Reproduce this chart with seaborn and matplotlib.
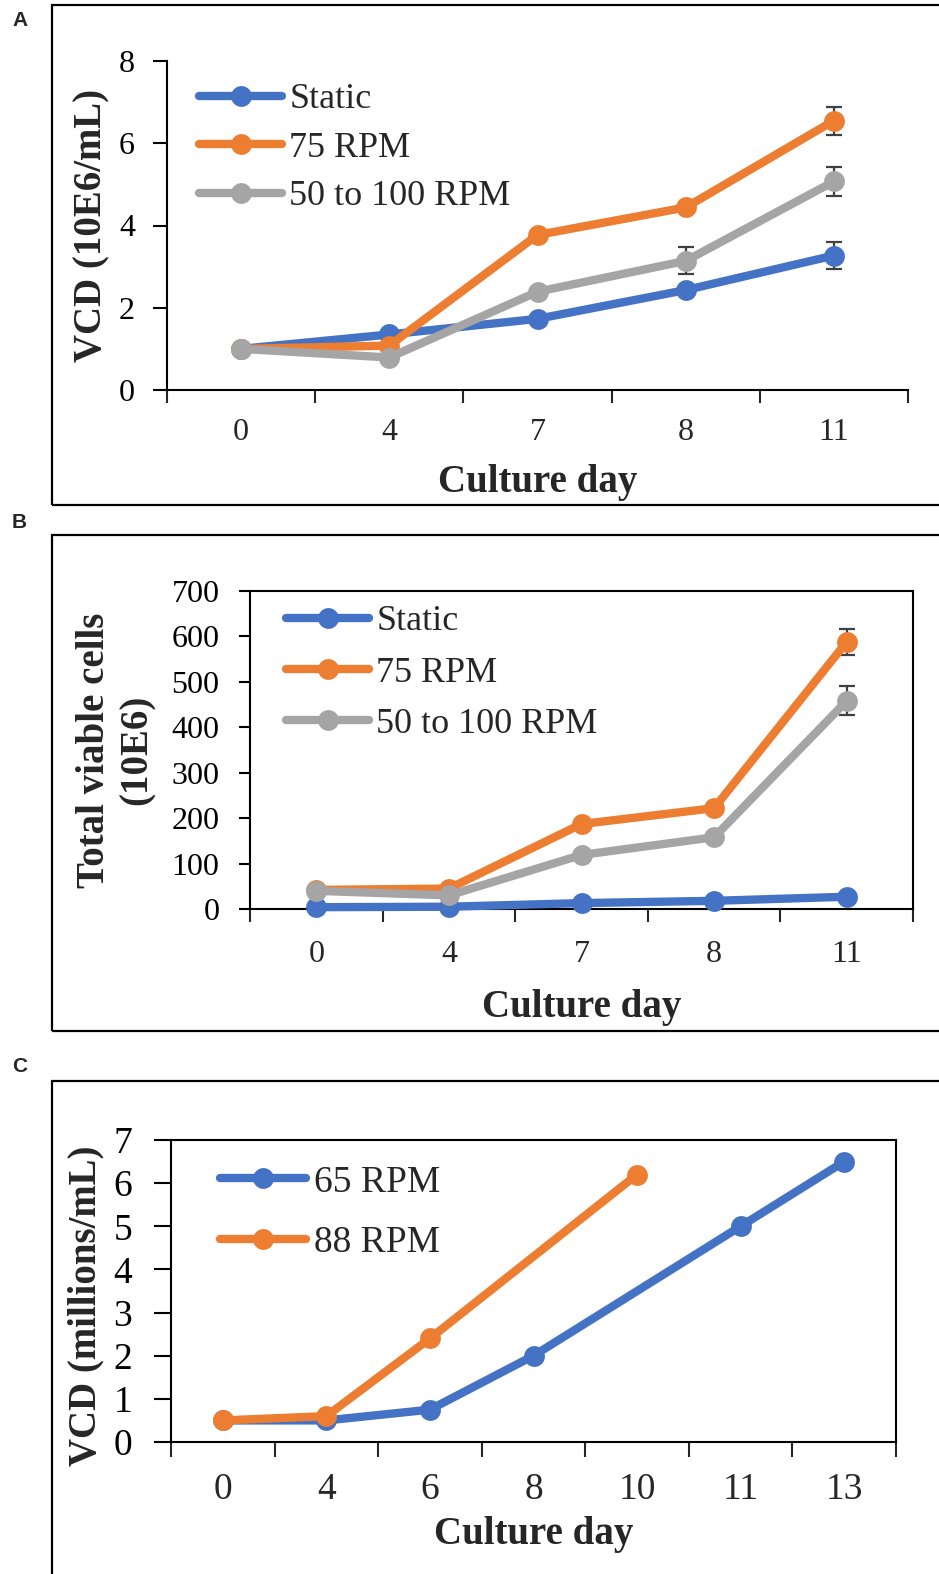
import numpy as np
import pandas as pd
import matplotlib
matplotlib.use("Agg")
import matplotlib.pyplot as plt
import seaborn as sns
from matplotlib.patches import Rectangle

# Panel A: viable cell density (10E6/mL)
days_a = ["0", "4", "7", "8", "11"]
vcd_static = [1.0, 1.35, 1.73, 2.43, 3.27]
vcd_75 = [1.0, 1.08, 3.77, 4.44, 6.55]
vcd_50_100 = [1.0, 0.79, 2.39, 3.14, 5.07]
vcd_static_err = [0, 0, 0, 0, 0.32]
vcd_75_err = [0, 0, 0, 0, 0.34]
vcd_50_100_err = [0, 0, 0, 0.33, 0.35]

# Panel B: total viable cells (10E6)
tvc_static = [4, 5, 13, 18, 27]
tvc_75 = [42, 45, 187, 222, 588]
tvc_50_100 = [40, 30, 119, 158, 458]
tvc_static_err = [0, 0, 0, 0, 0]
tvc_75_err = [0, 0, 0, 0, 29]
tvc_50_100_err = [0, 0, 0, 0, 32]

# Panel C: VCD (millions/mL), gaps = day not sampled
days_c = ["0", "4", "6", "8", "10", "11", "13"]
vcd_65 = [0.5, 0.5, 0.75, 2.0, np.nan, 5.0, 6.5]
vcd_88 = [0.5, 0.6, 2.4, np.nan, 6.2, np.nan, np.nan]

labels_ab = ["Static", "75 RPM", "50 to 100 RPM"]
labels_c = ["65 RPM", "88 RPM"]

BLUE = "#4472C4"
ORANGE = "#ED7D31"
GRAY = "#A5A5A5"

W, H = 939, 1574
SERIF = ["Liberation Serif", "DejaVu Serif"]

sns.set_style("ticks")
plt.rcParams["font.family"] = SERIF
plt.rcParams["axes.linewidth"] = 1.5

fig = plt.figure(figsize=(W / 100, H / 100), dpi=100)
fig.patch.set_facecolor("white")


def px_axes(left, top, right, bottom):
    # pixel box -> figure fraction
    return fig.add_axes([left / W, 1 - bottom / H, (right - left) / W, (bottom - top) / H])


def long_frame(days, series, labels, errs):
    rows = []
    for lab, vals, err in zip(labels, series, errs):
        for i, (v, e) in enumerate(zip(vals, err)):
            if not np.isnan(v):
                rows.append({"pos": i, "day": days[i], "value": v, "err": e, "series": lab})
    return pd.DataFrame(rows)


def draw_panel(ax, df, days, labels, colors, ylim, yticks, tick_fs, ypad, xpad,
               ytick_len, xtick_len, ylabel, ylabel_xy, xlabel_y, box,
               legend_xy, legend_fs, label_sp):
    sns.lineplot(data=df, x="pos", y="value", hue="series", hue_order=labels,
                 palette=colors, marker="o", markersize=15, linewidth=6,
                 markeredgewidth=0, errorbar=None, legend=False, ax=ax,
                 clip_on=False, zorder=3)
    handles = ax.get_lines()[:len(labels)]

    err = df[df["err"] > 0]
    if len(err):
        ax.errorbar(err["pos"], err["value"], yerr=err["err"], fmt="none",
                    ecolor="#404040", elinewidth=1.6, capsize=6, capthick=1.6,
                    zorder=2.6, clip_on=False)

    n = len(days)
    ax.set_xlim(-0.5, n - 0.5)
    ax.set_ylim(*ylim)
    ax.set_yticks(yticks)
    ax.set_xticks(np.arange(n + 1) - 0.5)
    ax.set_xticklabels([])
    ax.set_xticks(np.arange(n), minor=True)
    ax.set_xticklabels(days, minor=True)
    ax.tick_params(axis="y", direction="out", length=ytick_len, width=1.5,
                   pad=ypad, labelsize=tick_fs, colors="black")
    ax.tick_params(axis="x", which="major", direction="out", length=xtick_len, width=1.5)
    ax.tick_params(axis="x", which="minor", length=0, pad=xpad, labelsize=tick_fs)
    ax.yaxis.set_minor_locator(matplotlib.ticker.NullLocator())

    for s in ax.spines.values():
        s.set_color("black")
        s.set_linewidth(1.5)
    if not box:
        ax.spines["top"].set_visible(False)
        ax.spines["right"].set_visible(False)

    ax.set_ylabel(ylabel, fontsize=28, fontweight="bold", multialignment="center")
    ax.yaxis.set_label_coords(*ylabel_xy)
    ax.set_xlabel("Culture day", fontsize=28, fontweight="bold")
    ax.xaxis.set_label_coords(0.5, xlabel_y)

    ax.legend(handles, labels, loc="upper left",
              bbox_to_anchor=(legend_xy[0] / W, 1 - legend_xy[1] / H),
              bbox_transform=fig.transFigure, frameon=False, borderpad=0,
              borderaxespad=0, handlelength=2.3, handletextpad=0.2,
              labelspacing=label_sp, numpoints=1,
              prop={"family": SERIF, "size": legend_fs})
    ax.set_facecolor("white")


# outer frames and panel letters
for top, bottom, letter, ly in [(5, 505, "A", 21), (535, 1031, "B", 523), (1081, 1600, "C", 1066)]:
    fig.add_artist(Rectangle((52 / W, 1 - bottom / H), (960 - 52) / W, (bottom - top) / H,
                             fill=False, ec="black", lw=1.6, transform=fig.transFigure,
                             clip_on=False))
    fig.text(12 / W, 1 - ly / H, letter, family=["Liberation Sans", "DejaVu Sans"],
             weight="bold", size=15, va="center", ha="left")

# A
ax_a = px_axes(167, 61, 908, 390)
df_a = long_frame(days_a, [vcd_static, vcd_75, vcd_50_100], labels_ab,
                  [vcd_static_err, vcd_75_err, vcd_50_100_err])
draw_panel(ax_a, df_a, days_a, labels_ab, [BLUE, ORANGE, GRAY], (0, 8), range(0, 9, 2),
           23, 13, 20, 10, 9, "VCD (10E6/mL)", (-0.077, 0.5), -0.225, False,
           (199, 83), 26, 0.42)

# B
ax_b = px_axes(250, 591, 913, 909)
df_b = long_frame(days_a, [tvc_static, tvc_75, tvc_50_100], labels_ab,
                  [tvc_static_err, tvc_75_err, tvc_50_100_err])
draw_panel(ax_b, df_b, days_a, labels_ab, [BLUE, ORANGE, GRAY], (0, 700), range(0, 701, 100),
           23, 14, 22, 8, 9, "Total viable cells\n(10E6)", (-0.143, 0.5), -0.25, True,
           (286, 605), 26, 0.5)

# C
ax_c = px_axes(171, 1140, 896, 1442)
df_c = long_frame(days_c, [vcd_65, vcd_88], labels_c, [[0] * 7, [0] * 7])
draw_panel(ax_c, df_c, days_c, labels_c, [BLUE, ORANGE], (0, 7), range(0, 8),
           27, 16, 22, 12, 11, "VCD (millions/mL)", (-0.092, 0.45), -0.245, True,
           (220, 1165), 27, 0.7)

fig.savefig("out.png", dpi=100, facecolor="white")
